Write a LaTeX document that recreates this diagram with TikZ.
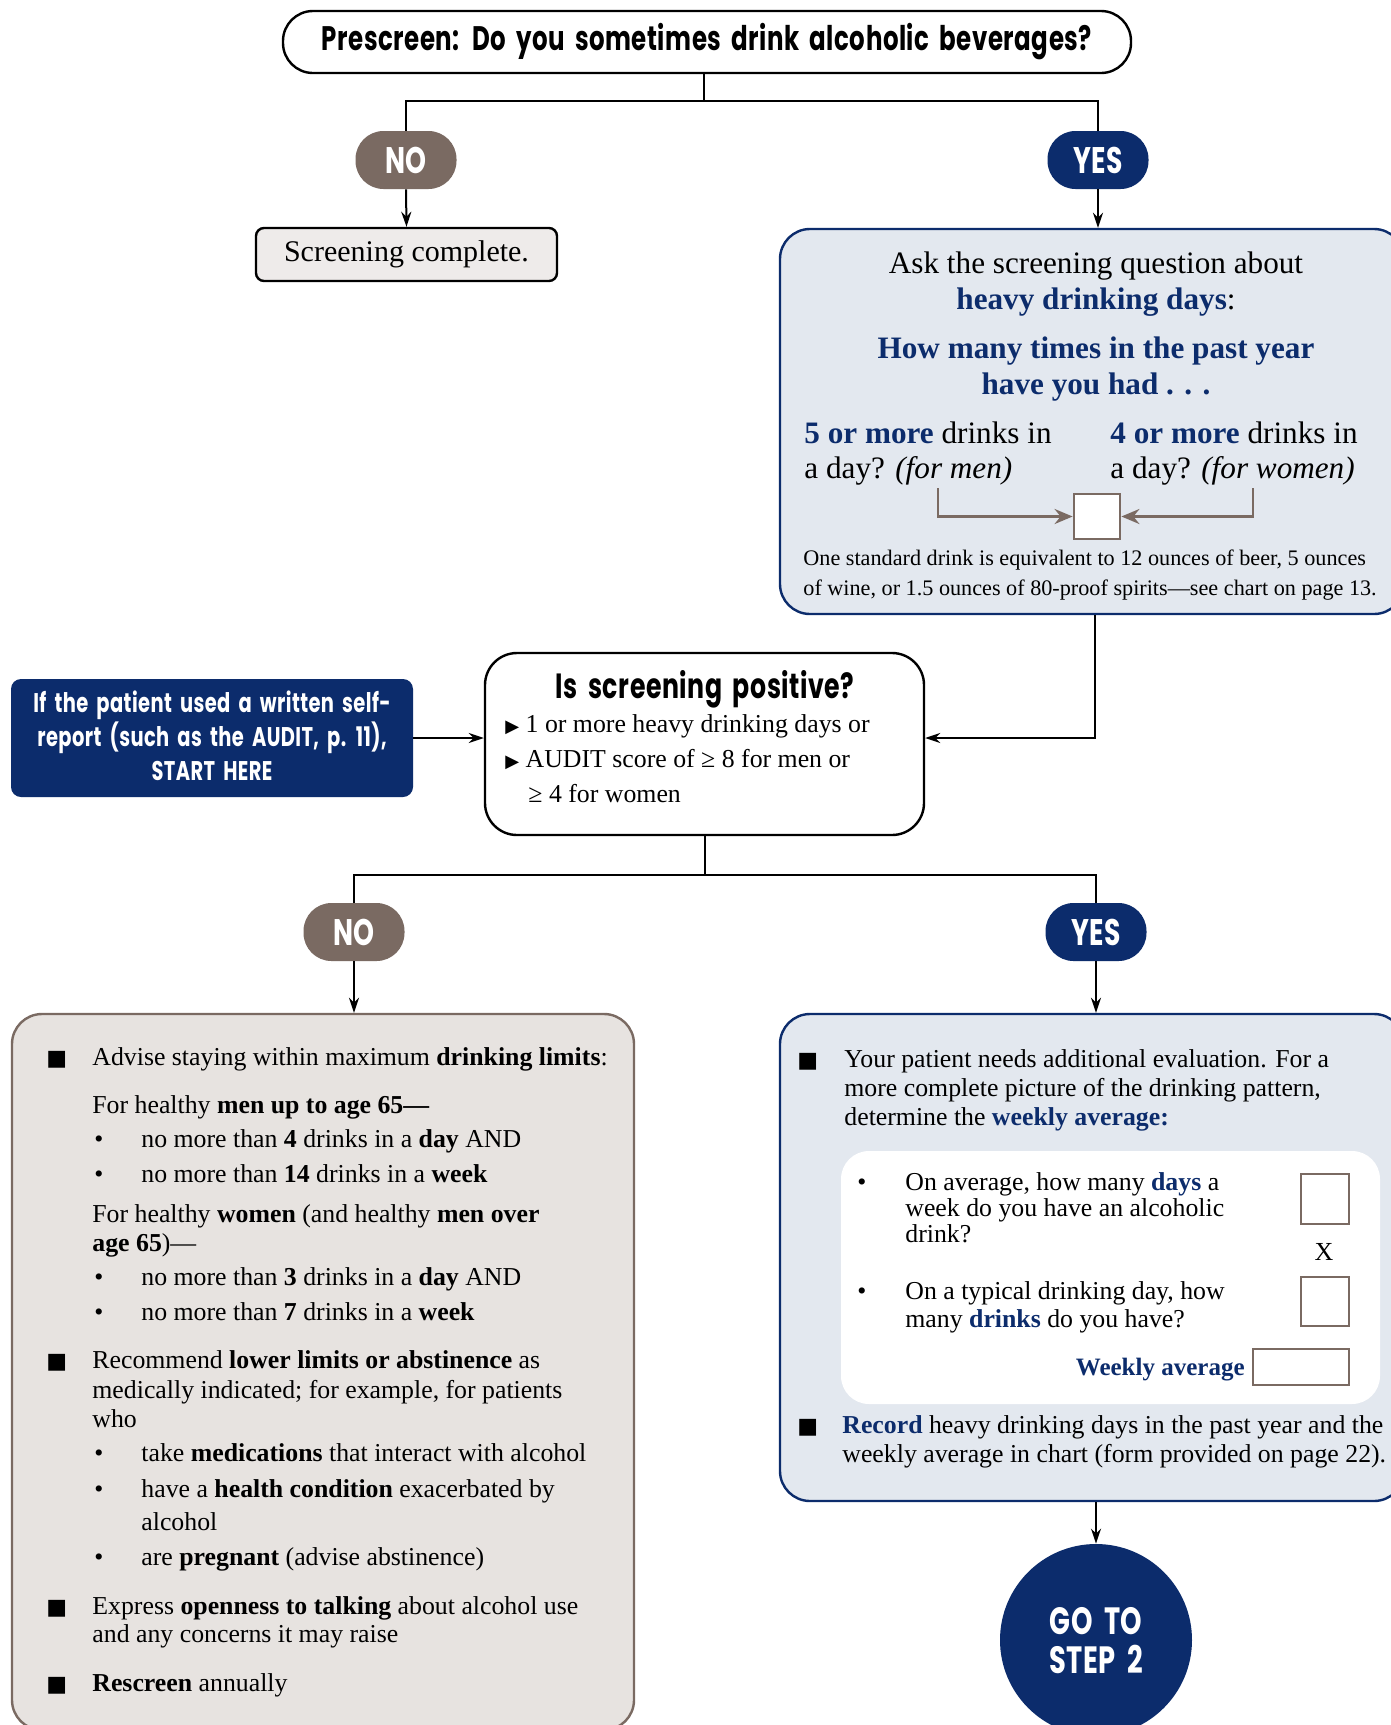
\documentclass[tikz,border=0pt]{standalone}
\usepackage{fontspec}
\setmainfont{Liberation Serif}
\newfontfamily\headfont[FakeStretch=0.72,WordSpace=1.8,LetterSpace=1.5]{Poppins}
\newfontfamily\symfont{DejaVu Sans}
\usetikzlibrary{arrows.meta}
\definecolor{navy}{HTML}{0C2C6C}
\definecolor{taupe}{HTML}{7A6A62}
\definecolor{bluefill}{HTML}{E3E8EF}
\definecolor{greyfill}{HTML}{E7E3E0}
\definecolor{donefill}{HTML}{EEEBEA}
\newcommand\nb[1]{\textcolor{navy}{\textbf{#1}}}
\newcommand\sqb{{\symfont\fontsize{11}{11}\selectfont ■}}
\newcommand\tri{{\symfont\fontsize{9}{9}\selectfont ▶}}
\tikzset{
  conn/.style={line width=1pt, draw=black},
  arr/.style={conn, -{Stealth[length=7.5pt,width=5pt]}},
  barr/.style={line width=1.4pt, draw=taupe, -{Stealth[length=9pt,width=7.5pt,inset=3pt]}},
  pill/.style={rounded corners=14pt, minimum width=50.5pt, minimum height=29pt, inner sep=0pt,
     text=white, font=\headfont\bfseries\fontsize{18.5}{20}\selectfont},
  txt/.style={anchor=base west, inner sep=0pt, font=\fontsize{12.9}{14}\selectfont},
  ctxt/.style={anchor=base, inner sep=0pt, font=\fontsize{15.6}{18}\selectfont},
  qtxt/.style={anchor=base west, inner sep=0pt, font=\fontsize{15.6}{18}\selectfont},
  ftxt/.style={anchor=base west, inner sep=0pt, font=\fontsize{11.1}{12}\selectfont},
  htxt/.style={anchor=base, inner sep=0pt, text=white, font=\headfont\bfseries\fontsize{13.5}{15}\selectfont},
  answerbox/.style={draw=taupe, line width=1.4pt, fill=white, inner sep=0pt},
}
\begin{document}
\begin{tikzpicture}[x=0.5pt,y=-0.5pt]
\useasboundingbox (0,0) rectangle (1391,1725);
\clip (0,0) rectangle (1391,1725);
\fill[white] (0,0) rectangle (1391,1725);

% ---------- prescreen ----------
\node[draw, line width=1.2pt, rounded corners=15pt, minimum width=424pt, minimum height=31pt, inner sep=0pt,
      font=\headfont\bfseries\fontsize{17}{20}\selectfont] (top) at (707,42)
      {Prescreen: Do you sometimes drink alcoholic beverages?};
\coordinate (j1) at (704,101);
\node[pill, fill=taupe] (no1) at (406,160) {NO};
\node[pill, fill=navy] (yes1) at (1098,160) {YES};
\draw[conn] (top.south -| j1) -- (j1);
\draw[conn] (no1.north) -- (no1.north |- j1) -- (yes1.north |- j1) -- (yes1.north);

\node[draw, line width=1.2pt, fill=donefill, rounded corners=4pt, minimum width=150.5pt, minimum height=26.5pt,
      inner sep=0pt, font=\fontsize{15}{18}\selectfont] (done) at (406.5,254.5) {Screening complete.};
\draw[arr] (no1.south) -- (done.north);

% ---------- ask box ----------
\node[draw=navy, line width=1.2pt, fill=bluefill, rounded corners=15pt, minimum width=312pt, minimum height=192.5pt,
      inner sep=0pt] (ask) at (1092,421.5) {};
\draw[arr] (yes1.south) -- (yes1.south |- ask.north);
\node[ctxt] (a1) at (1096,273) {Ask the screening question about};
\node[ctxt] (a2) at (1096,309) {\nb{heavy drinking days}:};
\node[ctxt] (a3) at (1096,358) {\nb{How many times in the past year}};
\node[ctxt] (a4) at (1096,394) {\nb{have you had . . .}};
\node[qtxt] (m1) at (804,443) {\nb{5 or more} drinks in};
\node[qtxt] (m2) at (804,478) {a day? \textit{(for men)}};
\node[qtxt] (w1) at (1110,443) {\nb{4 or more} drinks in};
\node[qtxt] (w2) at (1110,478) {a day? \textit{(for women)}};
\node[answerbox, minimum width=23pt, minimum height=22.5pt] (qbox) at (1097,516.5) {};
\coordinate (ma) at (938,488);
\coordinate (wa) at (1253,488);
\draw[barr] (ma) |- (qbox.west);
\draw[barr] (wa) |- (qbox.east);
\node[ftxt] (f1) at (803,565) {One standard drink is equivalent to 12 ounces of beer, 5 ounces};
\node[ftxt] (f2) at (803,595) {of wine, or 1.5 ounces of 80-proof spirits—see chart on page 13.};

% ---------- is screening positive ----------
\node[draw, line width=1.2pt, fill=white, rounded corners=16pt, minimum width=219.5pt, minimum height=91pt,
      inner sep=0pt] (isbox) at (704.5,744) {};
\node[anchor=base, inner sep=0pt, font=\headfont\bfseries\fontsize{17.5}{20}\selectfont] (ist) at (705,698) {Is screening positive?};
\node[txt] (is1) at (505,732) {\tri\ 1 or more heavy drinking days or};
\node[txt] (is2) at (505,767) {\tri\ AUDIT score of ≥ 8 for men or};
\node[txt] (is3) at (528,802) {≥ 4 for women};
\coordinate (c1) at (1095,0);
\draw[arr] (ask.south -| c1) |- ([yshift=3pt]isbox.east);

\node[fill=navy, rounded corners=5pt, minimum width=201pt, minimum height=59pt, inner sep=0pt] (self) at (212,738) {};
\node[htxt] (s1) at (212,712) {If the patient used a written self-};
\node[htxt] (s2) at (212,746) {report (such as the AUDIT, p. 11),};
\node[htxt] (s3) at (212,780) {START HERE};
\draw[arr] (self.east) -- (self.east -| isbox.west);

% ---------- second branch ----------
\coordinate (j2) at (705,875);
\node[pill, fill=taupe] (no2) at (354,932) {NO};
\node[pill, fill=navy] (yes2) at (1096,932) {YES};
\draw[conn] (isbox.south -| j2) -- (j2);
\draw[conn] (no2.north) -- (no2.north |- j2) -- (yes2.north |- j2) -- (yes2.north);

% ---------- left box ----------
\node[draw=taupe, line width=1.2pt, fill=greyfill, rounded corners=15pt, minimum width=311pt, minimum height=358pt,
      inner sep=0pt] (left) at (323,1372) {};
\draw[arr] (no2.south) -- (no2.south |- left.north);
\node[txt] (lb1) at (46,1065) {\sqb};
\node[txt] (l1) at (92,1065) {Advise staying within maximum \textbf{drinking limits}:};
\node[txt] (l2) at (92,1113) {For healthy \textbf{men up to age 65—}};
\node[txt] (lb2) at (94,1147) {•};
\node[txt] (l3) at (141,1147) {no more than \textbf{4} drinks in a \textbf{day} AND};
\node[txt] (lb3) at (94,1182) {•};
\node[txt] (l4) at (141,1182) {no more than \textbf{14} drinks in a \textbf{week}};
\node[txt] (l5) at (92,1222) {For healthy \textbf{women} (and healthy \textbf{men over}};
\node[txt] (l6) at (92,1251) {\textbf{age 65})—};
\node[txt] (lb4) at (94,1285) {•};
\node[txt] (l7) at (141,1285) {no more than \textbf{3} drinks in a \textbf{day} AND};
\node[txt] (lb5) at (94,1320) {•};
\node[txt] (l8) at (141,1320) {no more than \textbf{7} drinks in a \textbf{week}};
\node[txt] (lb6) at (46,1368) {\sqb};
\node[txt] (l9) at (92,1368) {Recommend \textbf{lower limits or abstinence} as};
\node[txt] (l10) at (92,1398) {medically indicated; for example, for patients};
\node[txt] (l11) at (92,1427) {who};
\node[txt] (lb7) at (94,1461) {•};
\node[txt] (l12) at (141,1461) {take \textbf{medications} that interact with alcohol};
\node[txt] (lb8) at (94,1497) {•};
\node[txt] (l13) at (141,1497) {have a \textbf{health condition} exacerbated by};
\node[txt] (l14) at (141,1530) {alcohol};
\node[txt] (lb9) at (94,1565) {•};
\node[txt] (l15) at (141,1565) {are \textbf{pregnant} (advise abstinence)};
\node[txt] (lb10) at (46,1614) {\sqb};
\node[txt] (l16) at (92,1614) {Express \textbf{openness to talking} about alcohol use};
\node[txt] (l17) at (92,1642) {and any concerns it may raise};
\node[txt] (lb11) at (46,1691) {\sqb};
\node[txt] (l18) at (92,1691) {\textbf{Rescreen} annually};

% ---------- right box ----------
\node[draw=navy, line width=1.2pt, fill=bluefill, rounded corners=15pt, minimum width=312pt, minimum height=243.5pt,
      inner sep=0pt] (right) at (1092,1257.5) {};
\draw[arr] (yes2.south) -- (yes2.south |- right.north);
\node[txt] (rb1) at (797,1067) {\sqb};
\node[txt] (r1) at (844,1067) {Your patient needs additional evaluation. For a};
\node[txt] (r2) at (844,1096) {more complete picture of the drinking pattern,};
\node[txt] (r3) at (844,1125) {determine the \nb{weekly average:}};
\node[fill=white, rounded corners=14pt, minimum width=269.5pt, minimum height=126.5pt, inner sep=0pt] (inner) at (1110.5,1277.5) {};
\node[txt] (ib1) at (857,1190) {•};
\node[txt] (i1) at (905,1190) {On average, how many \nb{days} a};
\node[txt] (i2) at (905,1216) {week do you have an alcoholic};
\node[txt] (i3) at (905,1242) {drink?};
\node[txt] (ib2) at (857,1299) {•};
\node[txt] (i4) at (905,1299) {On a typical drinking day, how};
\node[txt] (i5) at (905,1327) {many \nb{drinks} do you have?};
\node[answerbox, minimum width=24pt, minimum height=25pt] (d1) at (1325,1199) {};
\node[anchor=base, inner sep=0pt, font=\fontsize{13}{14}\selectfont] (times) at (1324,1260) {X};
\node[answerbox, minimum width=24pt, minimum height=24.5pt] (d2) at (1325,1301.5) {};
\node[answerbox, minimum width=48pt, minimum height=18pt] (d3) at (1301,1367) {};
\node[anchor=base east, inner sep=0pt, font=\fontsize{12.5}{14}\selectfont] (wa) at (1245,1375) {\nb{Weekly average}};
\node[txt] (rb2) at (797,1433) {\sqb};
\node[txt] (r4) at (842,1433) {\nb{Record} heavy drinking days in the past year and the};
\node[txt] (r5) at (842,1462) {weekly average in chart (form provided on page 22).};

% ---------- go to step 2 ----------
\node[circle, fill=navy, minimum size=96pt, inner sep=0pt] (goto) at (1096,1640) {};
\node[anchor=base, inner sep=0pt, text=white, font=\headfont\bfseries\fontsize{19}{22}\selectfont] (g1) at (1096,1634) {GO TO};
\node[anchor=base, inner sep=0pt, text=white, font=\headfont\bfseries\fontsize{19}{22}\selectfont] (g2) at (1096,1673) {STEP 2};
\draw[arr] (right.south -| goto) -- (goto.north);
\end{tikzpicture}
\end{document}
